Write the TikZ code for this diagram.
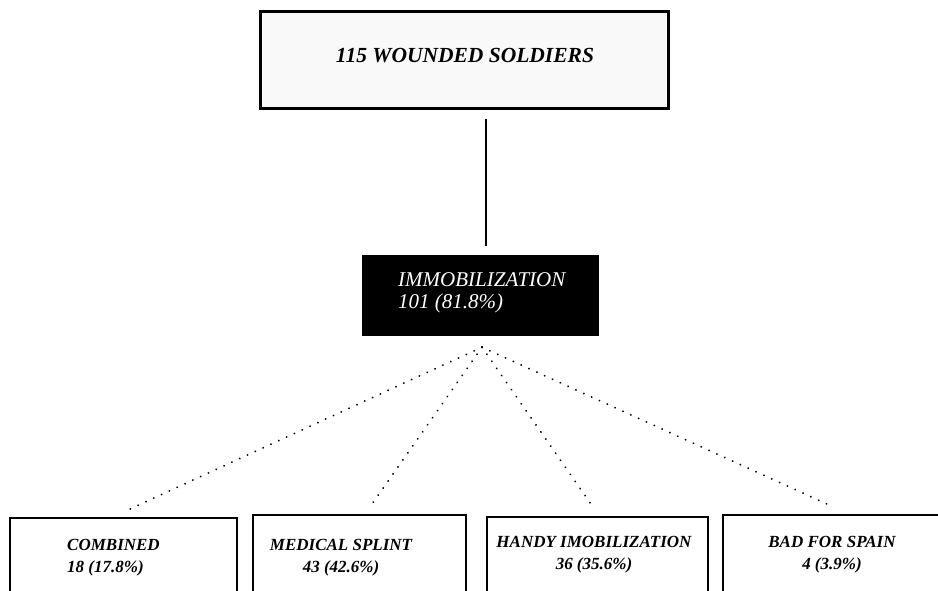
\documentclass[tikz,border=0pt]{standalone}
\usepackage{fontspec}
\setmainfont{Liberation Serif}
\begin{document}
\begin{tikzpicture}[x=1pt,y=-1pt,
  topbox/.style={draw=black, line width=3pt, fill=gray!5, inner sep=0pt},
  darkbox/.style={draw=black, fill=black, inner sep=0pt},
  leafbox/.style={draw=black, line width=2pt, fill=white, inner sep=0pt},
  toptext/.style={inner sep=0pt, font=\bfseries\itshape\fontsize{21.5}{24}\selectfont},
  darktext/.style={inner sep=0pt, text=white, align=left, font=\itshape\fontsize{21}{22}\selectfont},
  leaftext/.style={inner sep=0pt, font=\bfseries\itshape\fontsize{17}{22}\selectfont},
  dotline/.style={line width=2pt, line cap=round, dash pattern=on 0.1pt off 8.5pt},
]
\useasboundingbox (0,0) rectangle (938,590);
\fill[white] (0,0) rectangle (938,590);
\clip (0,0) rectangle (938,590);

% top box
\node[topbox, minimum width=408, minimum height=97] (top) at (464,59.5) {};
\node[toptext, anchor=base] (toplbl) at (465,62) {115 WOUNDED SOLDIERS};

% black box
\node[darkbox, minimum width=236, minimum height=80] (imm) at (480,295) {};
\node[darktext, anchor=west] (immlbl) at (398,293) {IMMOBILIZATION\\101 (81.8\%)};

% leaf boxes
\node[leafbox, minimum width=227, minimum height=76] (c1) at (123.5,556) {};
\node[leafbox, minimum width=213, minimum height=78] (c2) at (359.5,554) {};
\node[leafbox, minimum width=221, minimum height=76] (c3) at (597.5,555) {};
\node[leafbox, minimum width=240, minimum height=78] (c4) at (843,554) {};

\node[leaftext, align=left, anchor=west] (t1) at (67,558) {COMBINED\\18 (17.8\%)};
\node[leaftext, align=center] (t2) at (341,558) {MEDICAL SPLINT\\43 (42.6\%)};
\node[leaftext, align=center] (t3) at (594,555) {HANDY IMOBILIZATION\\36 (35.6\%)};
\node[leaftext, align=center] (t4) at (832,555) {BAD FOR SPAIN\\4 (3.9\%)};

% connectors
\draw[line width=1.2pt, shorten <=9pt, shorten >=9pt]
  ([xshift=22pt]top.south) -- ([xshift=22pt]top.south |- imm.north);

\coordinate (apex) at ([xshift=2pt,yshift=-12pt]imm.south);
\coordinate (e1) at ([xshift=6.5pt,yshift=8pt]c1.north);
\coordinate (e2) at ([xshift=12.5pt,yshift=10pt]c2.north);
\coordinate (e3) at ([xshift=-4.5pt,yshift=9pt]c3.north);
\coordinate (e4) at ([xshift=-16pt,yshift=10pt]c4.north);
\draw[dotline] (apex) -- (e1);
\draw[dotline] (apex) -- (e2);
\draw[dotline] (apex) -- (e3);
\draw[dotline] (apex) -- (e4);
\end{tikzpicture}
\end{document}
